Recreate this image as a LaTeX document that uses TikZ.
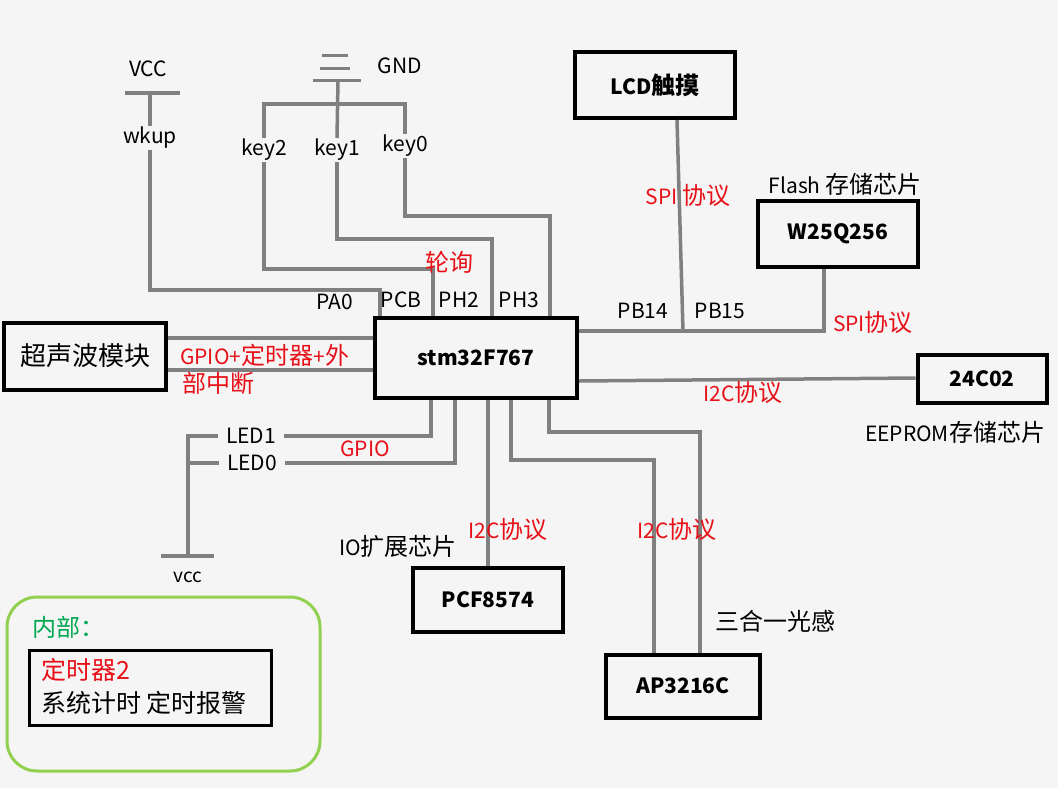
\documentclass[tikz,border=0pt]{standalone}
\usepackage{fontspec}
\setmainfont{Noto Sans CJK SC}
\usepackage{tikz}
\usepackage{xcolor}
\definecolor{bggray}{HTML}{F5F5F5}
\definecolor{wiregray}{HTML}{808080}
\definecolor{labelred}{HTML}{E81018}
\definecolor{boxgreen}{HTML}{92D050}
\definecolor{textgreen}{HTML}{00A850}
\newcommand{\diagfont}{\fontsize{21}{25}\selectfont}
\newcommand{\zh}[1]{{\fontsize{24}{28}\selectfont #1}}

\tikzset{
  chip/.style={draw=black,line width=4pt,inner sep=0pt,font=\diagfont\bfseries},
  wire/.style={draw=wiregray,line width=3.5pt},
  lbl/.style={inner sep=1pt,font=\diagfont},
  proto/.style={lbl,text=labelred},
}

\begin{document}
\begin{tikzpicture}[x=1pt,y=-1pt]
  \fill[bggray] (0,0) rectangle (1058,788);
  \useasboundingbox (0,0) rectangle (1058,788);

  % chips
  \node[chip,minimum width=202pt,minimum height=80pt] (stm) at (476,358) {stm32F767};
  \node[chip,font=\fontsize{26}{30}\selectfont,minimum width=162pt,minimum height=67pt] (sonar) at (85,356) {超声波模块};
  \node[chip,minimum width=160pt,minimum height=66pt] (lcd) at (655,85) {LCD\zh{触摸}};
  \node[chip,minimum width=160pt,minimum height=66pt] (flash) at (838,234) {W25Q256};
  \node[chip,minimum width=129pt,minimum height=48pt] (eeprom) at (982,379) {24C02};
  \node[chip,minimum width=150pt,minimum height=64pt] (pcf) at (488,600) {PCF8574};
  \node[chip,minimum width=154pt,minimum height=63pt] (light) at (683,686) {AP3216C};

  % internal part
  \draw[boxgreen,line width=3pt,rounded corners=30pt] (7,597) rectangle (320,771);
  \node[lbl,text=textgreen] (inner) at (68,627) {\zh{内部：}};
  \node[draw=black,line width=3pt,minimum width=242pt,minimum height=75pt] (timer) at (150,688) {};
  \node[proto,anchor=west,font=\fontsize{25}{28}\selectfont] (tim2) at (40,670) {定时器2};
  \node[lbl,anchor=west,font=\fontsize{25}{28}\selectfont] (tasks) at (40,703) {系统计时 定时报警};

  % power and keys
  \node[lbl] (vcc) at (148,69) {VCC};
  \coordinate (vccbar) at (150,93);
  \draw[wire] (125,93) -- (180,93);
  \node[lbl] (wkup) at (150,138) {wkup};
  \draw[wire] (vccbar) -- (wkup.north);
  \node[lbl] (gnd) at (400,66) {GND};
  \draw[wire,line width=3pt] (322,55) -- (348,55) (320,68) -- (350,68) (313,80) -- (361,80);
  \coordinate (gndbar) at (338,80);
  \node[lbl] (key2) at (264,150) {key2};
  \node[lbl] (key1) at (337,150) {key1};
  \node[lbl] (key0) at (405,146) {key0};
  \draw[wire] (gndbar) -- (key1.north);
  \draw[wire] (key2.north) |- (key0.north |- 0,104) -- (key0.north);

  \draw[wire] (wkup.south) |- (380,290) -- (stm.north -| 380,0);
  \draw[wire] (key2.south) |- (433,269) -- (stm.north -| 433,0);
  \draw[wire] (key1.south) |- (492,239) -- (stm.north -| 492,0);
  \draw[wire] (key0.south) |- (550,216) -- (stm.north -| 550,0);
  \node[lbl] (pa0) at (335,302) {PA0};
  \node[lbl] (pcb) at (401,300) {PCB};
  \node[lbl] (ph2) at (459,300) {PH2};
  \node[lbl] (ph3) at (519,300) {PH3};
  \node[proto] (poll) at (449,262) {\zh{轮询}};

  % ultrasonic
  \draw[wire] (sonar.east |- 0,338) -- (stm.west |- 0,338);
  \draw[wire] (sonar.east |- 0,370) -- (stm.west |- 0,370);
  \node[proto,anchor=west] (gpiotim) at (179,355) {GPIO+\zh{定时器}+\zh{外}};
  \node[proto,anchor=west] (exti) at (181,383) {\zh{部中断}};

  % spi
  \coordinate (spi) at (824,331);
  \coordinate (pb) at (683,331);
  \draw[wire] (stm.east |- spi) -- (spi) -- (flash.south -| spi);
  \draw[wire] (lcd.south -| 677,0) -- (pb);
  \node[proto] (spilcd) at (688,195) {SPI \zh{协议}};
  \node[proto] (spiflash) at (873,322) {SPI\zh{协议}};
  \node[lbl] (flashtxt) at (845,184) {Flash \zh{存储芯片}};
  \node[lbl] (pb14) at (643,311) {PB14};
  \node[lbl] (pb15) at (720,311) {PB15};

  % i2c
  \draw[wire] (stm.east |- 0,381) -- (eeprom.west |- 0,378);
  \node[proto] (i2crom) at (743,392) {I2C\zh{协议}};
  \node[lbl] (romtxt) at (955,432) {EEPROM\zh{存储芯片}};
  \draw[wire] (stm.south -| pcf.north) -- (pcf.north);
  \draw[wire] (stm.south -| 511,0) -- (511,460) -| (light.north -| 654,0);
  \draw[wire] (stm.south -| 549,0) -- (549,432) -| (light.north -| 700,0);
  \node[proto] (i2cpcf) at (508,529) {I2C\zh{协议}};
  \node[proto] (i2clight) at (677,529) {I2C\zh{协议}};
  \node[lbl] (pcftxt) at (398,546) {IO\zh{扩展芯片}};
  \node[lbl] (lighttxt) at (775,621) {\zh{三合一光感}};

  % leds
  \node[lbl,inner xsep=8pt] (led1) at (251,436) {LED1};
  \node[lbl,inner xsep=8pt] (led0) at (252,463) {LED0};
  \draw[wire] (led1.east) -| (stm.south -| 431,0);
  \draw[wire] (led0.east) -| (stm.south -| 455,0);
  \node[proto] (gpio) at (365,449) {GPIO};
  \coordinate (ledvcc) at (188,556);
  \draw[wire] (led1.west) -| (ledvcc);
  \draw[wire] (led0.west) -- (led0.west -| ledvcc);
  \draw[wire] (161,556) -- (214,556);
  \node[lbl,font=\fontsize{19}{22}\selectfont] (vccled) at (188,577) {vcc};
\end{tikzpicture}
\end{document}
